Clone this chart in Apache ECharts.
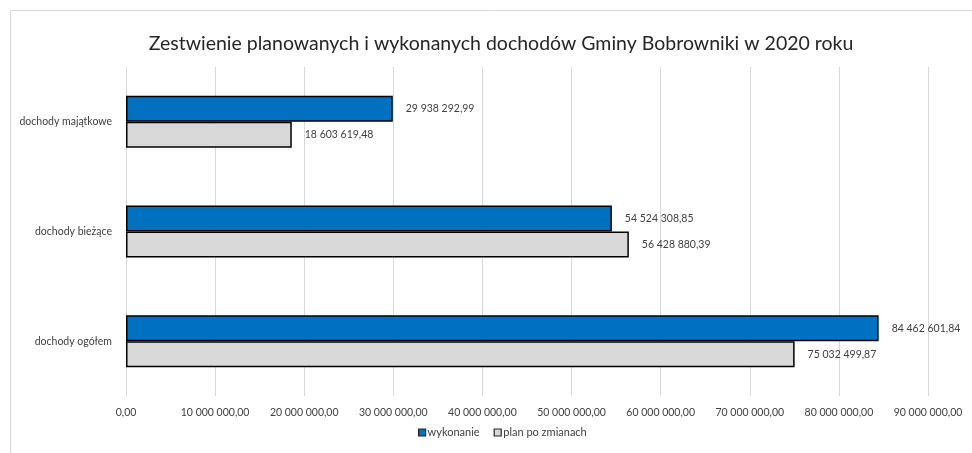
<!DOCTYPE html>
<html>
<head>
<meta charset="utf-8">
<script src="https://cdn.jsdelivr.net/npm/echarts@6/dist/echarts.min.js"></script>
<style>
html,body{margin:0;padding:0;background:#fff;}
#chart{width:972px;height:453px;}
</style>
</head>
<body>
<div id="chart"></div>
<script>
const title = 'Zestwienie planowanych i wykonanych dochodów Gminy Bobrowniki w 2020 roku';
const categories = ['dochody ogółem', 'dochody bieżące', 'dochody majątkowe'];
const seriesNames = ['wykonanie', 'plan po zmianach'];
const wykonanie = [84462601.84, 54524308.85, 29938292.99];
const planPoZmianach = [75032499.87, 56428880.39, 18603619.48];
const axisMin = 0, axisMax = 90000000, axisInterval = 10000000;

function fmt(v) {
  const s = Math.abs(v).toFixed(2);
  const parts = s.split('.');
  const int = parts[0].replace(/\B(?=(\d{3})+(?!\d))/g, ' ');
  return (v < 0 ? '-' : '') + int + ',' + parts[1];
}

const FONT = 'Lato';
const chart = echarts.init(document.getElementById('chart'), null, {renderer: 'canvas'});
chart.setOption({
  animation: false,
  backgroundColor: '#fff',
  textStyle: {fontFamily: FONT},
  title: {
    text: title,
    left: 496, top: 29, textAlign: 'center',
    textStyle: {fontFamily: FONT, fontSize: 19.5, fontWeight: 'normal', color: '#262626'}
  },
  graphic: [{
    type: 'rect', left: 8, top: 8, z: -1, silent: true,
    shape: {width: 1000, height: 500},
    style: {fill: 'none', stroke: '#d9d9d9', lineWidth: 1}
  }],
  legend: {
    data: seriesNames,
    left: 413, top: 422,
    itemWidth: 7, itemHeight: 7, itemGap: 14,
    icon: 'rect',
    textStyle: {fontFamily: FONT, fontSize: 11, color: '#404040', padding: [0, 0, 0, -3]},
    itemStyle: {borderColor: '#262626', borderWidth: 1.2}
  },
  grid: {left: 126, right: 44, top: 67, bottom: 57, containLabel: false},
  xAxis: {
    type: 'value', min: axisMin, max: axisMax, interval: axisInterval,
    axisLine: {show: false}, axisTick: {show: false},
    splitLine: {show: true, lineStyle: {color: '#d9d9d9', width: 1}},
    axisLabel: {formatter: v => fmt(v), fontFamily: FONT, fontSize: 10.5, color: '#404040', margin: 11}
  },
  yAxis: {
    type: 'category', data: categories,
    axisLine: {show: true, lineStyle: {color: '#d9d9d9'}},
    axisTick: {show: false},
    axisLabel: {fontFamily: FONT, fontSize: 10.5, color: '#404040', margin: 14}
  },
  series: [
    {
      name: seriesNames[0], type: 'bar', data: wykonanie,
      barWidth: 26, barGap: '0%',
      itemStyle: {color: '#0070c0', borderColor: '#000', borderWidth: 1.5},
      label: {show: true, position: 'right', distance: 13, formatter: p => fmt(p.value),
        fontFamily: FONT, fontSize: 10.5, color: '#404040'}
    },
    {
      name: seriesNames[1], type: 'bar', data: planPoZmianach,
      barWidth: 26, barGap: '0%',
      itemStyle: {color: '#d9d9d9', borderColor: '#000', borderWidth: 1.5},
      label: {show: true, position: 'right', distance: 13, formatter: p => fmt(p.value),
        fontFamily: FONT, fontSize: 10.5, color: '#404040'}
    }
  ]
});
</script>
</body>
</html>
